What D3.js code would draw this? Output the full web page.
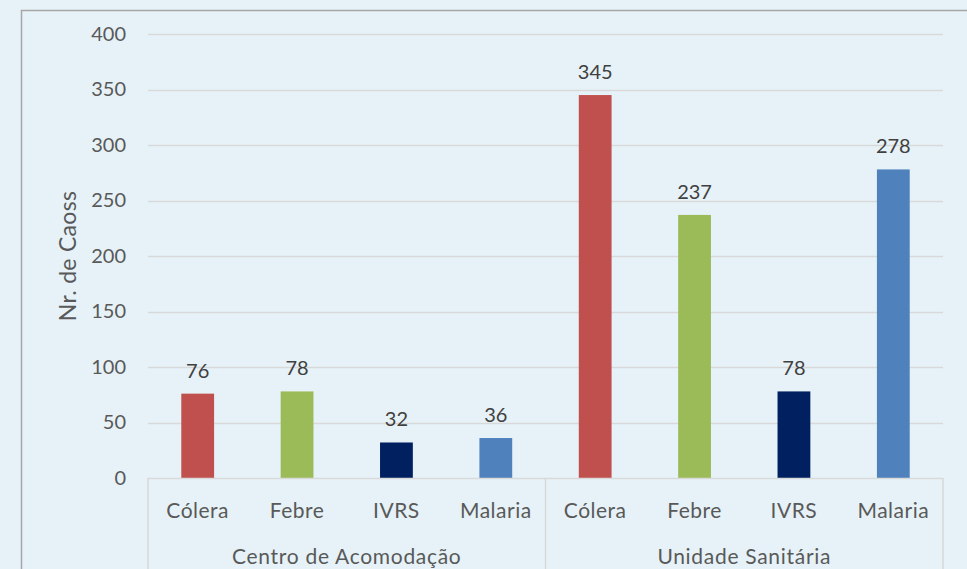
<!DOCTYPE html>
<html><head><meta charset="utf-8">
<script src="https://cdn.jsdelivr.net/npm/d3@7"></script>
<style>
html,body{margin:0;padding:0;background:#e6f2f7;}
svg{display:block;font-family:Lato, "Open Sans", sans-serif;}
</style></head>
<body>
<svg id="c" width="967" height="569"></svg>
<script>
const groups = ["Centro de Acomodação", "Unidade Sanitária"];
const diseases = ["Cólera", "Febre", "IVRS", "Malaria"];
const centroValues = [76, 78, 32, 36];
const unidadeValues = [345, 237, 78, 278];
const colors = ["#c0504d", "#9bbb59", "#002060", "#4f81bd"];
const yTicks = [0, 50, 100, 150, 200, 250, 300, 350, 400];
const yTitle = "Nr. de Caoss";

const groupValues = [centroValues, unidadeValues];
const data = [];
groups.forEach((g, gi) => diseases.forEach((d, di) => data.push({group: g, disease: d, value: groupValues[gi][di], ci: di})));

const svg = d3.select("#c");
const W = 967, H = 569;
svg.append("rect").attr("x", 0).attr("y", 0).attr("width", W).attr("height", H).attr("fill", "#e6f2f7");
svg.append("path").attr("d", `M21.5,${H}V10.5H${W}`).attr("fill", "none").attr("stroke", "#a6a6a6").attr("stroke-width", 1.5);

const pLeft = 148, pRight = 943, pTop = 34, pBottom = 478;
const y = d3.scaleLinear().domain([0, 400]).range([pBottom, pTop]);
const xg = d3.scaleBand().domain(groups).range([pLeft, pRight]).padding(0);
const xc = d3.scaleBand().domain(diseases).range([0, xg.bandwidth()]).paddingInner(0.67).paddingOuter(0.335);

svg.append("g").selectAll("line").data(yTicks.filter(t => t > 0)).join("line")
  .attr("x1", pLeft).attr("x2", pRight)
  .attr("y1", d => Math.round(y(d)) + 0.5).attr("y2", d => Math.round(y(d)) + 0.5)
  .attr("stroke", "#d9d9d9").attr("stroke-width", 1.5);

const yAxis = d3.axisLeft(y).tickValues(yTicks).tickSize(0).tickPadding(22);
const ya = svg.append("g").attr("transform", `translate(${pLeft},0)`).call(yAxis);
ya.select(".domain").remove();
ya.selectAll("text").attr("font-size", 20).attr("fill", "#595959").attr("font-family", "Lato, sans-serif");

svg.append("g").selectAll("rect").data(data).join("rect")
  .attr("x", d => xg(d.group) + xc(d.disease))
  .attr("width", xc.bandwidth())
  .attr("y", d => y(d.value))
  .attr("height", d => y(0) - y(d.value))
  .attr("fill", d => colors[d.ci]);

svg.append("g").selectAll("text").data(data).join("text")
  .attr("x", d => xg(d.group) + xc(d.disease) + xc.bandwidth() / 2)
  .attr("y", d => y(d.value) - 16)
  .attr("text-anchor", "middle")
  .attr("font-size", 20).attr("fill", "#404040")
  .text(d => d.value);

const axisG = svg.append("g").attr("stroke", "#d9d9d9").attr("stroke-width", 1.5).attr("fill", "none");
axisG.append("line").attr("x1", pLeft).attr("x2", pRight).attr("y1", pBottom + 0.5).attr("y2", pBottom + 0.5);
const seps = [pLeft, xg(groups[1]), pRight];
axisG.selectAll("line.sep").data(seps).join("line").attr("class", "sep")
  .attr("x1", d => d).attr("x2", d => d).attr("y1", pBottom).attr("y2", H);

svg.append("g").selectAll("text").data(data).join("text")
  .attr("x", d => xg(d.group) + xc(d.disease) + xc.bandwidth() / 2)
  .attr("y", 518)
  .attr("text-anchor", "middle")
  .attr("font-size", 21).attr("letter-spacing", 0.5).attr("fill", "#595959")
  .text(d => d.disease);

svg.append("g").selectAll("text").data(groups).join("text")
  .attr("x", d => xg(d) + xg.bandwidth() / 2)
  .attr("y", 564)
  .attr("text-anchor", "middle")
  .attr("font-size", 21).attr("letter-spacing", 0.7).attr("fill", "#595959")
  .text(d => d);

svg.append("text")
  .attr("transform", `translate(76,256) rotate(-90)`)
  .attr("text-anchor", "middle")
  .attr("font-size", 23).attr("letter-spacing", 0.3).attr("fill", "#595959")
  .text(yTitle);
</script>
</body></html>
